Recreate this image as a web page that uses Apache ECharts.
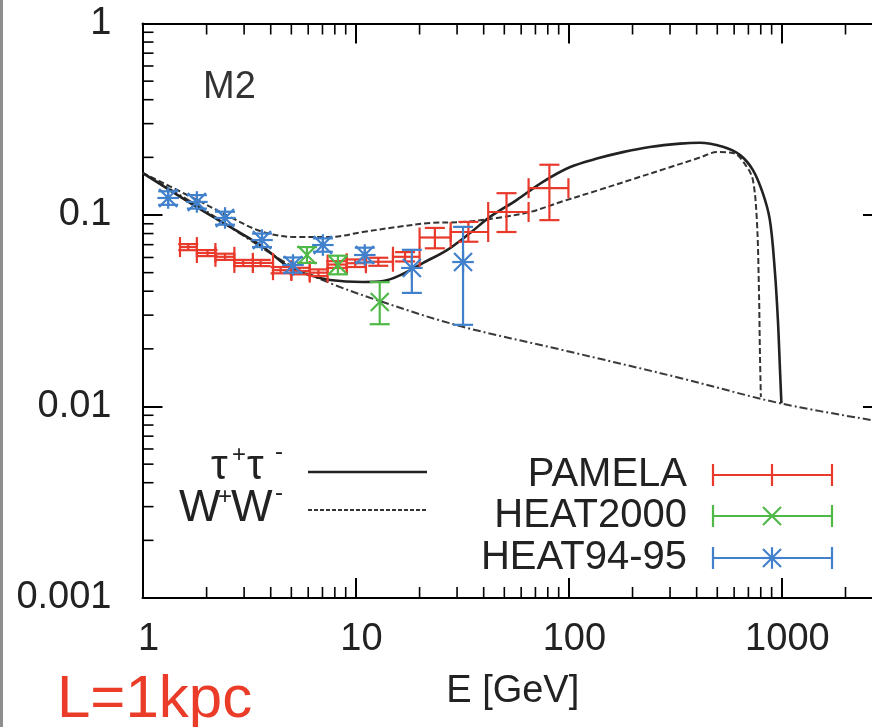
<!DOCTYPE html>
<html>
<head>
<meta charset="utf-8">
<script src="https://cdn.jsdelivr.net/npm/echarts@6/dist/echarts.min.js"></script>
<style>
html, body { margin: 0; padding: 0; background: #fff; }
#chart { width: 872px; height: 727px; }
</style>
</head>
<body>
<div id="chart"></div>
<script>
// Positron fraction e+/(e+ + e-) versus energy, model M2 (L = 1 kpc)

// Axis tick labels
const xTickLabels = ['1', '10', '100', '1000'];
const yTickLabels = ['0.001', '0.01', '0.1', '1'];

// Model curve: tau+ tau- channel (signal + background)
const tauE = [1, 1.8, 2.58, 3.68, 4.93, 6.11, 7.59, 10.8, 13.5, 16.7, 20.7, 26.9, 34.5, 42.8, 57.3, 75.9, 102, 136, 180, 241, 334, 414, 531, 638, 734, 818, 883, 931, 963, 985, 1000];
const tauY = [0.166, 0.110, 0.0866, 0.0681, 0.0529, 0.0486, 0.0458, 0.0447, 0.0452, 0.0492, 0.0561, 0.0656, 0.0805, 0.0977, 0.120, 0.149, 0.178, 0.197, 0.213, 0.2265, 0.236, 0.2385, 0.227, 0.206, 0.172, 0.130, 0.094, 0.0516, 0.0283, 0.0155, 0.0104];

// Model curve: W+ W- channel (signal + background)
const wwE = [1, 1.8, 2.58, 3.68, 5.31, 7.59, 10.8, 15.7, 22.4, 32, 46.2, 66, 94.2, 136, 201, 290, 414, 498, 592, 689, 735, 767, 784, 793, 801];
const wwY = [0.166, 0.120, 0.0976, 0.0815, 0.0767, 0.0767, 0.0815, 0.0866, 0.0908, 0.0919, 0.0965, 0.1037, 0.118, 0.134, 0.154, 0.1755, 0.1995, 0.213, 0.211, 0.178, 0.152, 0.094, 0.042, 0.019, 0.0112];

// Secondary-production background
const bgE = [1, 1.86, 3.2, 4.93, 7.59, 13.45, 31, 94.2, 334, 985, 3000];
const bgY = [0.1656, 0.110, 0.074, 0.0548, 0.0441, 0.0351, 0.0263, 0.0197, 0.0141, 0.0104, 0.0083];

// PAMELA: bin centre, bin edges, fraction and its error range
const pamE   = [1.64, 2.02, 2.44, 2.97, 3.59, 4.45, 5.46, 6.70, 8.11, 9.97, 12.8, 17.1, 23.6, 33.9, 51.2, 81.4];
const pamElo = [1.5, 1.8, 2.2, 2.7, 3.3, 4.1, 5.0, 6.1, 7.4, 9.1, 11.2, 15.0, 20.0, 28.0, 42.0, 65.0];
const pamEhi = [1.8, 2.2, 2.7, 3.3, 4.1, 5.0, 6.1, 7.4, 9.1, 11.2, 15.0, 20.0, 28.0, 42.0, 65.0, 100];
const pamY   = [0.068, 0.0633, 0.0605, 0.0562, 0.0562, 0.0515, 0.051, 0.050, 0.0551, 0.056, 0.057, 0.0605, 0.0763, 0.0815, 0.1037, 0.138];
const pamYlo = [0.0655, 0.061, 0.0583, 0.0541, 0.0541, 0.0496, 0.049, 0.048, 0.0529, 0.0535, 0.0543, 0.0572, 0.067, 0.0725, 0.0815, 0.094];
const pamYhi = [0.0705, 0.0656, 0.0628, 0.0583, 0.0583, 0.0535, 0.053, 0.052, 0.0574, 0.0586, 0.0598, 0.064, 0.0856, 0.092, 0.130, 0.183];

// HEAT2000
const h00E   = [5.92, 8.27, 13.0];
const h00Y   = [0.0618, 0.0548, 0.0351];
const h00Ylo = [0.0562, 0.049, 0.0269];
const h00Yhi = [0.068, 0.0613, 0.0446];

// HEAT94-95
const h94E   = [1.32, 1.80, 2.44, 3.64, 5.09, 7.03, 11.06, 18.4, 32.0];
const h94Y   = [0.1227, 0.117, 0.0965, 0.074, 0.0548, 0.0697, 0.0618, 0.0529, 0.0568];
const h94Ylo = [0.113, 0.108, 0.089, 0.068, 0.050, 0.0643, 0.0565, 0.0392, 0.0267];
const h94Yhi = [0.133, 0.127, 0.104, 0.080, 0.060, 0.0755, 0.0675, 0.0658, 0.0867];

// Minor tick positions (2..9 within each decade)
const xMinor = [];
for (const d of [1, 10, 100, 1000]) for (let m = 2; m <= 9; m++) if (d * m < 3000) xMinor.push(d * m);
const yMinor = [];
for (const d of [0.001, 0.01, 0.1]) for (let m = 2; m <= 9; m++) yMinor.push(+(d * m).toPrecision(3));

const FONT = '"Liberation Sans", Arial, Helvetica, sans-serif';
const RED = '#e8392b', GREEN = '#4fb947', BLUE = '#4181cc';

const zip = (a, b) => a.map((v, i) => [v, b[i]]);

function xMinorTick(params, api) {
  const cs = params.coordSys;
  const px = api.coord([api.value(0), api.value(1)])[0];
  const st = { stroke: '#000', lineWidth: 1.6 };
  const bot = cs.y + cs.height, top = cs.y;
  return { type: 'group', children: [
    { type: 'line', shape: { x1: px, y1: bot, x2: px, y2: bot - 11 }, style: st },
    { type: 'line', shape: { x1: px, y1: top, x2: px, y2: top + 11 }, style: st }
  ] };
}
function yMinorTick(params, api) {
  const cs = params.coordSys;
  const py = api.coord([api.value(0), api.value(1)])[1];
  const st = { stroke: '#000', lineWidth: 1.6 };
  const l = cs.x, r = cs.x + cs.width;
  return { type: 'group', children: [
    { type: 'line', shape: { x1: l, y1: py, x2: l + 11, y2: py }, style: st },
    { type: 'line', shape: { x1: r, y1: py, x2: r - 11, y2: py }, style: st }
  ] };
}

function markerShapes(kind, cx, cy, st) {
  const s = 9, out = [];
  const L = (x1, y1, x2, y2) => out.push({ type: 'line', shape: { x1, y1, x2, y2 }, style: st });
  if (kind === 'x' || kind === 'star') {
    L(cx - s, cy - s, cx + s, cy + s);
    L(cx - s, cy + s, cx + s, cy - s);
  }
  if (kind === 'star') {
    L(cx, cy - s * 1.2, cx, cy + s * 1.2);
    L(cx - s * 1.2, cy, cx + s * 1.2, cy);
  }
  return out;
}

function errorRenderer(color, kind) {
  return function (params, api) {
    const E = api.value(0), y = api.value(1);
    const elo = api.value(2), ehi = api.value(3), ylo = api.value(4), yhi = api.value(5);
    const c = api.coord([E, y]);
    const pl = api.coord([elo, y]), ph = api.coord([ehi, y]);
    const pb = api.coord([E, ylo]), pt = api.coord([E, yhi]);
    const cap = 10;
    const st = { stroke: color, lineWidth: 2.2, fill: null };
    const ch = [];
    const L = (x1, y1, x2, y2) => ch.push({ type: 'line', shape: { x1, y1, x2, y2 }, style: st });
    if (ph[0] - pl[0] > 0.5) {
      L(pl[0], c[1], ph[0], c[1]);
      L(pl[0], c[1] - cap, pl[0], c[1] + cap);
      L(ph[0], c[1] - cap, ph[0], c[1] + cap);
    }
    L(c[0], pt[1], c[0], pb[1]);
    L(c[0] - cap, pt[1], c[0] + cap, pt[1]);
    L(c[0] - cap, pb[1], c[0] + cap, pb[1]);
    return { type: 'group', children: ch.concat(markerShapes(kind, c[0], c[1], st)) };
  };
}

function errorData(E, Elo, Ehi, Y, Ylo, Yhi) {
  return E.map((e, i) => [e, Y[i], Elo ? Elo[i] : e, Ehi ? Ehi[i] : e, Ylo[i], Yhi[i]]);
}

const axisLineStyle = { color: '#000', width: 2 };
const tickStyle = { color: '#000', width: 2 };
const labelStyle = { fontFamily: FONT, fontSize: 38, color: '#222', lineHeight: 38 };

const xFormatter = v => xTickLabels[Math.round(Math.log10(v))] || '';
const yFormatter = v => yTickLabels[Math.round(Math.log10(v)) + 3] || '';

function xAxisCfg(pos, withLabels) {
  return {
    type: 'log', logBase: 10, min: 1, max: 3000, position: pos,
    axisLine: { show: true, lineStyle: axisLineStyle },
    axisTick: { show: true, inside: true, length: 20, lineStyle: tickStyle },
    axisLabel: Object.assign({ show: withLabels, margin: 23, showMaxLabel: false, formatter: xFormatter, padding: [0, 0, 0, 12] }, labelStyle),
    splitLine: { show: false },
    minorTick: { show: false }
  };
}
function yAxisCfg(pos, withLabels) {
  return {
    type: 'log', logBase: 10, min: 0.001, max: 1, position: pos,
    axisLine: { show: true, lineStyle: axisLineStyle },
    axisTick: { show: true, inside: true, length: 20, lineStyle: tickStyle },
    axisLabel: Object.assign({ show: withLabels, margin: 31, formatter: yFormatter }, labelStyle),
    splitLine: { show: false },
    minorTick: { show: false }
  };
}

const xBottom = xAxisCfg('bottom', true);
xBottom.name = 'E [GeV]';
xBottom.nameLocation = 'middle';
xBottom.nameGap = 75;
xBottom.nameTextStyle = { fontFamily: FONT, fontSize: 38, color: '#222', lineHeight: 38 };

// Legend samples and annotations
const legendX0 = 713, legendX1 = 832, legendMid = 772;
const legendRows = [
  { name: 'PAMELA', color: RED, kind: 'plus', y: 475 },
  { name: 'HEAT2000', color: GREEN, kind: 'x', y: 516 },
  { name: 'HEAT94-95', color: BLUE, kind: 'star', y: 558 }
];
const graphics = [
  { type: 'rect', shape: { x: 0, y: 0, width: 3, height: 727 }, style: { fill: '#8e8e8e' } },
  { type: 'text', x: 229.5, y: 87.5, style: { text: 'M2', font: '38px ' + FONT, fill: '#333', align: 'center', verticalAlign: 'middle' } },
  { type: 'text', x: 57, y: 700, style: { text: 'L=1kpc', font: '60px ' + FONT, fill: '#ea3c28', align: 'left', verticalAlign: 'middle' } },
  // model legend
  { type: 'text', x: 211, y: 467, style: { text: 'τ', font: '42px ' + FONT, fill: '#222', verticalAlign: 'middle' } },
  { type: 'text', x: 232, y: 455, style: { text: '+', font: '24px ' + FONT, fill: '#222', verticalAlign: 'middle' } },
  { type: 'text', x: 247, y: 467, style: { text: 'τ', font: '42px ' + FONT, fill: '#222', verticalAlign: 'middle' } },
  { type: 'text', x: 275, y: 452, style: { text: '-', font: '24px ' + FONT, fill: '#222', verticalAlign: 'middle' } },
  { type: 'text', x: 179, y: 509, style: { text: 'W', font: '44px ' + FONT, fill: '#222', verticalAlign: 'middle' } },
  { type: 'text', x: 218, y: 497, style: { text: '+', font: '24px ' + FONT, fill: '#222', verticalAlign: 'middle' } },
  { type: 'text', x: 231, y: 509, style: { text: 'W', font: '44px ' + FONT, fill: '#222', verticalAlign: 'middle' } },
  { type: 'text', x: 275, y: 493, style: { text: '-', font: '24px ' + FONT, fill: '#222', verticalAlign: 'middle' } },
  { type: 'line', shape: { x1: 308, y1: 472, x2: 427, y2: 472 }, style: { stroke: '#222', lineWidth: 2.6 } },
  { type: 'line', shape: { x1: 308, y1: 510, x2: 427, y2: 510 }, style: { stroke: '#333', lineWidth: 1.8, lineDash: [4, 2] } }
];
legendRows.forEach(r => {
  const st = { stroke: r.color, lineWidth: 2.2, fill: null };
  graphics.push({ type: 'text', x: 687, y: r.y, style: { text: r.name, font: '40px ' + FONT, fill: '#222', align: 'right', verticalAlign: 'middle' } });
  graphics.push({ type: 'line', shape: { x1: legendX0, y1: r.y, x2: legendX1, y2: r.y }, style: st });
  graphics.push({ type: 'line', shape: { x1: legendX0, y1: r.y - 11, x2: legendX0, y2: r.y + 11 }, style: st });
  graphics.push({ type: 'line', shape: { x1: legendX1, y1: r.y - 11, x2: legendX1, y2: r.y + 11 }, style: st });
  if (r.kind === 'plus') {
    graphics.push({ type: 'line', shape: { x1: legendMid, y1: r.y - 11, x2: legendMid, y2: r.y + 11 }, style: st });
  } else {
    markerShapes(r.kind, legendMid, r.y, st).forEach(s => graphics.push(s));
  }
});

const curveBase = { type: 'line', showSymbol: false, smooth: 0.35, z: 2 };

const chart = echarts.init(document.getElementById('chart'), null, { renderer: 'canvas' });
chart.setOption({
  animation: false,
  backgroundColor: '#fff',
  textStyle: { fontFamily: FONT },
  // the frame runs a little past the right edge of the canvas
  grid: { left: 142.5, top: 23.5, width: 740.5, height: 574.5, containLabel: false, outerBoundsMode: 'none' },
  xAxis: [xBottom, xAxisCfg('top', false)],
  yAxis: [yAxisCfg('left', true), yAxisCfg('right', false)],
  graphic: graphics,
  series: [
    { type: 'custom', name: 'xminor', renderItem: xMinorTick, data: xMinor.map(v => [v, 0.01]), silent: true, z: 5 },
    { type: 'custom', name: 'yminor', renderItem: yMinorTick, data: yMinor.map(v => [10, v]), silent: true, z: 5 },
    Object.assign({}, curveBase, { name: 'background', data: zip(bgE, bgY),
      lineStyle: { color: '#3a3a3a', width: 2, type: [8, 3, 2, 3] } }),
    Object.assign({}, curveBase, { name: 'W+W-', data: zip(wwE, wwY),
      lineStyle: { color: '#333', width: 2, type: [6, 3] } }),
    Object.assign({}, curveBase, { name: 'tau+tau-', data: zip(tauE, tauY), z: 3,
      lineStyle: { color: '#222', width: 2.6 } }),
    { type: 'custom', name: 'PAMELA', renderItem: errorRenderer(RED, 'none'), z: 4,
      data: errorData(pamE, pamElo, pamEhi, pamY, pamYlo, pamYhi) },
    { type: 'custom', name: 'HEAT2000', renderItem: errorRenderer(GREEN, 'x'), z: 4,
      data: errorData(h00E, null, null, h00Y, h00Ylo, h00Yhi) },
    { type: 'custom', name: 'HEAT94-95', renderItem: errorRenderer(BLUE, 'star'), z: 4,
      data: errorData(h94E, null, null, h94Y, h94Ylo, h94Yhi) }
  ]
});
</script>
</body>
</html>
